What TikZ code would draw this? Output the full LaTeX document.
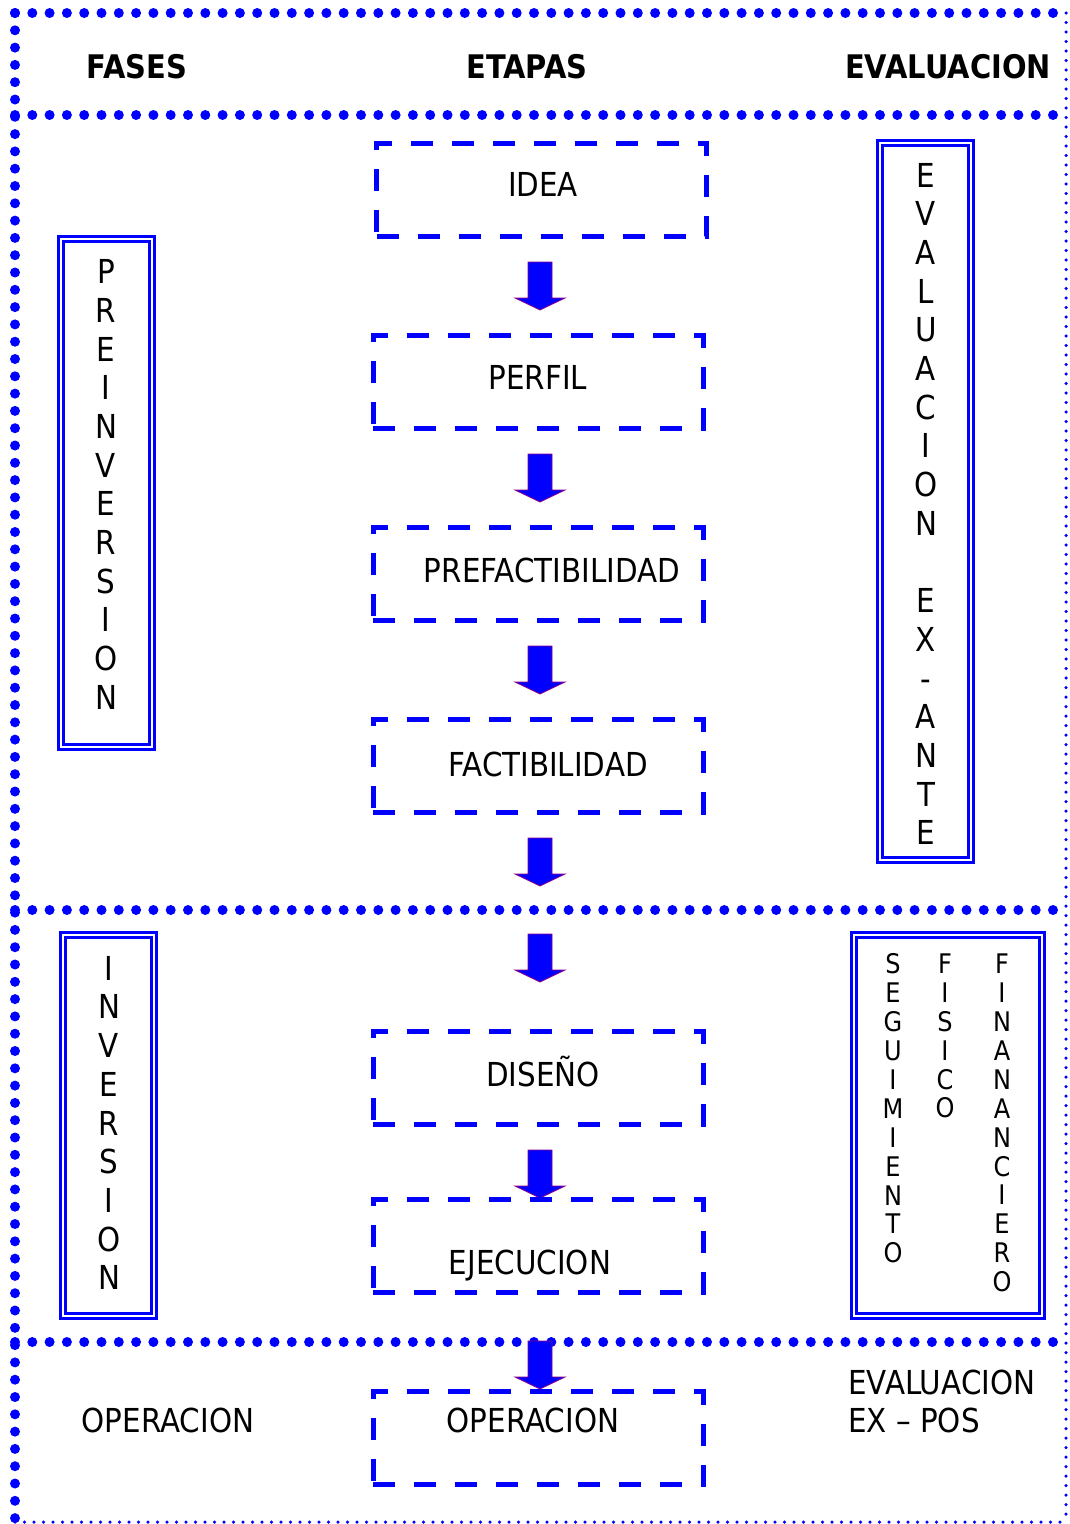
\documentclass[tikz,border=0pt]{standalone}
\usepackage{fontspec}
\setmainfont[FakeStretch=0.89]{DejaVu Sans}
\definecolor{arrowline}{RGB}{140,0,140}

\begin{document}
\begin{tikzpicture}[x=1pt,y=-1pt]

\tikzset{BigDots/.style = {blue, line width=10pt, line cap=round, dash pattern=on 0pt off 17.3pt}}
\tikzset{SmallDots/.style = {blue, line width=3.5pt, line cap=round, dash pattern=on 0pt off 9.5pt}}
\tikzset{EtapaBox/.style = {draw=blue, line width=5pt, dash pattern=on 22pt off 19pt,
                            minimum width=330pt, minimum height=93pt, inner sep=0pt}}
\tikzset{FaseBox/.style = {draw=blue, double=white, line width=3pt, double distance=2.5pt, inner sep=0pt}}
\tikzset{Txt/.style = {font=\fontsize{33}{38.7}\selectfont, inner sep=0pt, align=center}}
\tikzset{Head/.style = {font=\fontsize{32.5}{36}\selectfont\bfseries, inner sep=0pt}}
\tikzset{SmallTxt/.style = {font=\fontsize{27}{28.9}\selectfont, inner sep=0pt, align=center}}
\tikzset{BlockArrow/.pic = {\draw[fill=blue, draw=arrowline, line width=0.8pt]
   (-12,0) -- (12,0) -- (12,36) -- (25,36) -- (0,48) -- (-25,36) -- (-12,36) -- cycle;}}

\useasboundingbox (0,0) rectangle (1069,1524);

\draw[BigDots] (15,13) -- (1066,13);
\draw[BigDots] (15,13) -- (15,1524);
\draw[SmallDots] (1066,13) -- (1066,1522);
\draw[SmallDots] (15,1522) -- (1066,1522);
\draw[BigDots] (15,115) -- (1066,115);
\draw[BigDots] (15,910) -- (1066,910);
\draw[BigDots] (15,1342) -- (1066,1342);

\node[Head] (fases) at (137,67) {FASES};
\node[Head] (etapas) at (527,67) {ETAPAS};
\node[Head] (evaluacion) at (948,67) {EVALUACION};

\pic at (540,262) {BlockArrow};
\pic at (540,454) {BlockArrow};
\pic at (540,646) {BlockArrow};
\pic at (540,838) {BlockArrow};
\pic at (540,934) {BlockArrow};
\pic at (540,1150) {BlockArrow};
\pic at (540,1341) {BlockArrow};

\node[EtapaBox] (idea) at (541.5,189.5) {};
\node[EtapaBox] (perfil) at (538,381.5) {};
\node[EtapaBox] (prefact) at (538,573.5) {};
\node[EtapaBox] (fact) at (538,765.5) {};
\node[EtapaBox] (diseno) at (538,1077.5) {};
\node[EtapaBox] (ejecucion) at (538,1245.5) {};
\node[EtapaBox] (operacion) at (538,1438) {};

\node[Txt] (idea-t) at (543,184) {IDEA};
\node[Txt] (perfil-t) at (538,377) {PERFIL};
\node[Txt] (prefact-t) at (552,570) {PREFACTIBILIDAD};
\node[Txt] (fact-t) at (548,764) {FACTIBILIDAD};
\node[Txt] (diseno-t) at (543,1072) {DISEÑO};
\node[Txt] (ejecucion-t) at (530,1266) {EJECUCION};
\node[Txt] (operacion-t) at (533,1420) {OPERACION};

\node[FaseBox, minimum width=91pt, minimum height=508pt] (preinv) at (106.5,493) {};
\node[Txt] (preinv-t) at (106,484.5) {P\\R\\E\\I\\N\\V\\E\\R\\S\\I\\O\\N};

\node[FaseBox, minimum width=91pt, minimum height=381pt] (inv) at (108.5,1125.5) {};
\node[Txt] (inv-t) at (109,1123) {I\\N\\V\\E\\R\\S\\I\\O\\N};

\node[FaseBox, minimum width=91pt, minimum height=717pt] (exante) at (925.5,501.5) {};
\node[Txt] (exante-t) at (926,504) {E\\V\\A\\L\\U\\A\\C\\I\\O\\N\\[38.7pt]E\\X\\-\\A\\N\\T\\E};

\node[FaseBox, minimum width=188pt, minimum height=381pt] (seguim) at (948,1125.5) {};
\node[SmallTxt] (seguim-a) at (893,1108.5) {S\\E\\G\\U\\I\\M\\I\\E\\N\\T\\O};
\node[SmallTxt] (seguim-b) at (945,1036) {F\\I\\S\\I\\C\\O};
\node[SmallTxt] (seguim-c) at (1002,1123) {F\\I\\N\\A\\N\\A\\N\\C\\I\\E\\R\\O};

\node[Txt] (oper-fase) at (168,1420) {OPERACION};
\node[Txt, align=left, anchor=west, font=\fontsize{33}{38}\selectfont] (expos) at (848,1401) {EVALUACION\\EX -- POS};

\end{tikzpicture}
\end{document}
